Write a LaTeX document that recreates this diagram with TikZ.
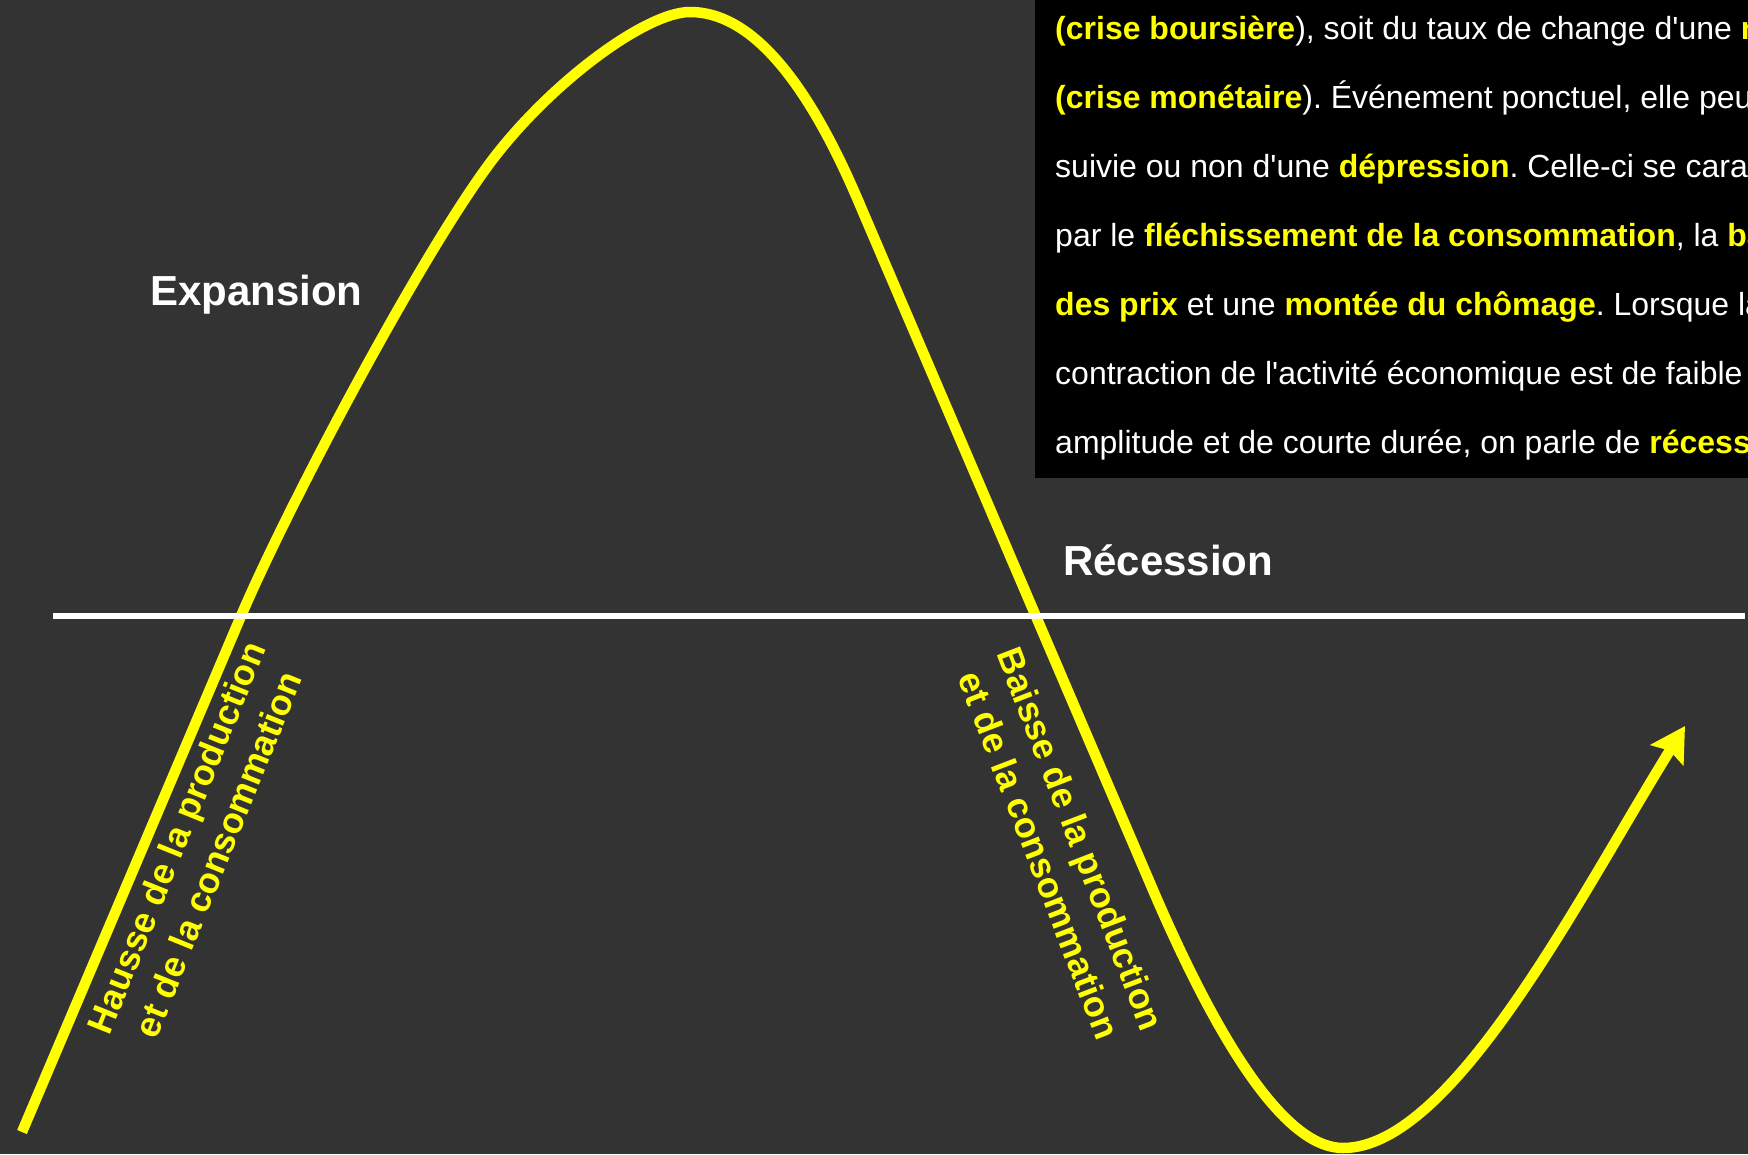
\documentclass[tikz,border=0pt]{standalone}
\usepackage{fontspec}
\setmainfont{Liberation Sans}[Ligatures=TeXOff]
\usetikzlibrary{arrows.meta}
\definecolor{bg}{HTML}{333333}
\definecolor{hy}{HTML}{FFFF00}
\newcommand\yb[1]{\textcolor{hy}{\bfseries #1}}
\frenchspacing
\begin{document}
\begin{tikzpicture}[x=1pt,y=-1pt,
  boxline/.style={anchor=base west, inner sep=0pt, text=white, font=\fontsize{32}{38}\selectfont},
  phase/.style={anchor=base west, inner sep=0pt, text=white, font=\fontsize{42}{48}\selectfont\bfseries},
  slant/.style={align=center, text=hy, inner sep=0pt, font=\fontsize{36}{45}\selectfont\bfseries},
  wave/.style={draw=hy, line width=10.5pt},
  axisline/.style={draw=white, line width=5.5pt}]
\useasboundingbox (0,0) rectangle (1748,1154);
\clip (0,0) rectangle (1748,1154);
\fill[bg] (0,0) rectangle (1748,1154);
% text box
\fill[black] (1035,-5) rectangle (1760,478);
\node[boxline] (t1) at (1055,39) {\yb{(crise boursière}), soit du taux de change d'une \yb{monnaie}};
\node[boxline] (t2) at (1055,108.1) {\yb{(crise monétaire}). Événement ponctuel, elle peut être};
\node[boxline] (t3) at (1055,177.2) {suivie ou non d'une \yb{dépression}. Celle-ci se caractérise};
\node[boxline] (t4) at (1055,246.3) {par le \yb{fléchissement de la consommation}, la \yb{baisse}};
\node[boxline] (t5) at (1055,315.4) {\yb{des prix} et une \yb{montée du chômage}. Lorsque la};
\node[boxline] (t6) at (1055,384.5) {contraction de l'activité économique est de faible};
\node[boxline] (t7) at (1055,453.6) {amplitude et de courte durée, on parle de \yb{récession}};
% cycle curve
\coordinate (start) at (22,1132);
\coordinate (cross1) at (241,616);
\coordinate (mid1) at (487,167);
\coordinate (peak) at (690,12);
\coordinate (mid2) at (857,198);
\coordinate (low1) at (1150,883);
\coordinate (trough) at (1343,1148);
\coordinate (tip) at (1685,726);
\draw[wave, -{Stealth[length=34pt, width=38pt, inset=5pt]}]
  (start) -- (cross1)
  .. controls (288,506) and (416.3,264) .. (mid1)
  .. controls (546,86) and (645,12) .. (peak)
  .. controls (748,12) and (803.7,74) .. (mid2)
  -- (low1)
  .. controls (1225.3,1059.7) and (1289.7,1148) .. (trough)
  .. controls (1453,1148) and (1579.6,896) .. (tip);
% axis
\draw[axisline] (53,616) -- (1745,616);
% labels
\node[phase] (exp) at (150,305) {Expansion};
\node[phase] (rec) at (1063,575) {Récession};
\node[slant, rotate=68] (hausse) at (197,846) {Hausse de la production\\et de la consommation};
\node[slant, rotate=-69] (baisse) at (1060,847) {Baisse de la production\\et de la consommation};
\end{tikzpicture}
\end{document}
